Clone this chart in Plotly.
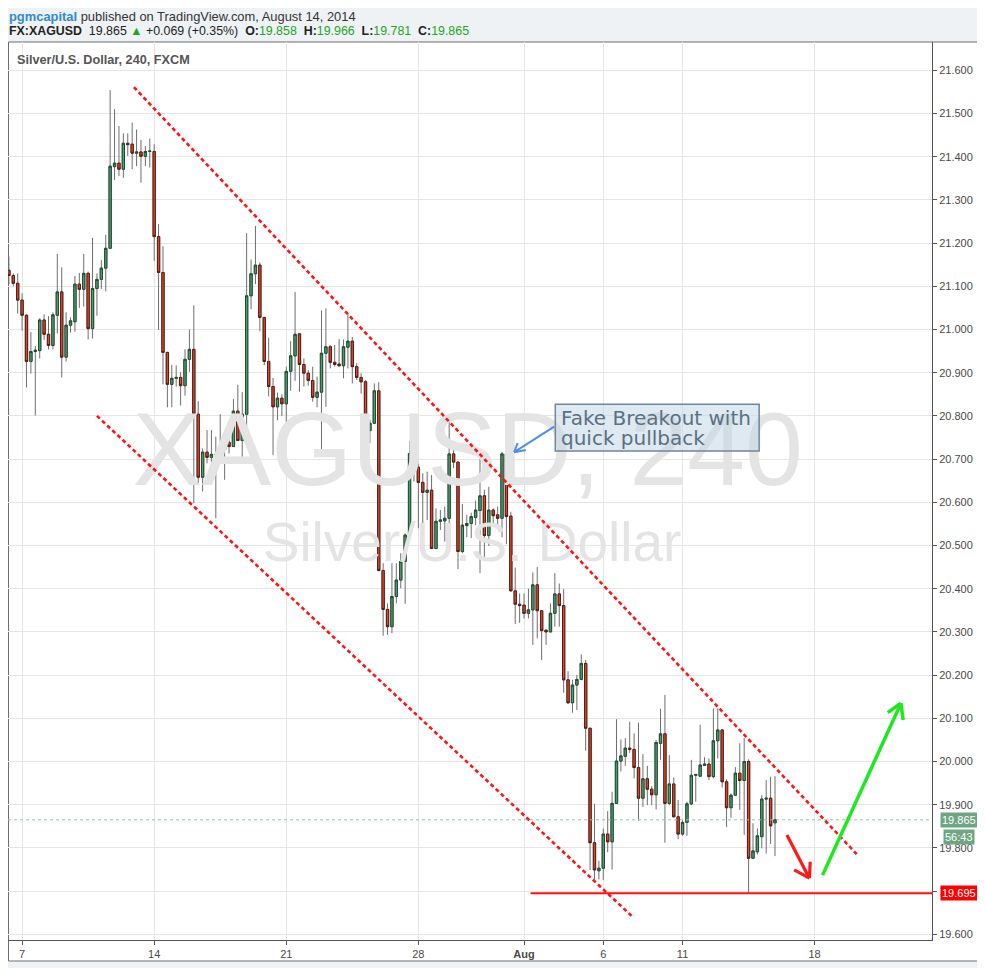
import plotly.graph_objects as go

# ---------------- data: XAGUSD 240 (4h) candles, FXCM ----------------
bar_open = [21.137, 21.125, 21.107, 21.068, 21.033, 20.926, 20.949, 20.951, 21.022, 20.989,
            20.963, 21.033, 21.087, 20.936, 21.010, 21.018, 21.105, 21.093, 21.130, 21.002,
            21.095, 21.116, 21.142, 21.188, 21.377, 21.385, 21.371, 21.431, 21.429, 21.408,
            21.411, 21.401, 21.412, 21.412, 21.215, 21.132, 20.947, 20.873, 20.887, 20.889,
            20.870, 20.931, 20.954, 20.804, 20.658, 20.716, 20.704, 20.711, 20.704, 20.723,
            20.739, 20.729, 20.811, 20.743, 20.804, 21.078, 21.129, 21.149, 21.028, 20.926,
            20.868, 20.821, 20.841, 20.828, 20.903, 20.939, 20.990, 20.919, 20.899, 20.882,
            20.843, 20.855, 20.945, 20.960, 20.924, 20.920, 20.916, 20.959, 20.973, 20.914,
            20.889, 20.879, 20.766, 20.783, 20.858, 20.442, 20.352, 20.312, 20.382, 20.420,
            20.463, 20.524, 20.713, 20.681, 20.646, 20.623, 20.628, 20.493, 20.556, 20.557,
            20.563, 20.712, 20.693, 20.486, 20.546, 20.551, 20.565, 20.581, 20.615, 20.523,
            20.582, 20.571, 20.563, 20.712, 20.568, 20.395, 20.364, 20.362, 20.343, 20.351,
            20.409, 20.349, 20.304, 20.300, 20.343, 20.388, 20.361, 20.189, 20.136, 20.177,
            20.190, 20.227, 20.077, 19.812, 19.747, 19.753, 19.832, 19.814, 19.903, 20.001,
            20.012, 20.031, 20.028, 19.986, 19.915, 19.960, 19.936, 19.923, 20.042, 20.064,
            19.903, 19.948, 19.872, 19.832, 19.859, 19.902, 19.968, 19.966, 19.991, 19.994,
            19.965, 20.048, 20.073, 19.953, 19.893, 19.922, 19.973, 19.956, 20.000, 19.776,
            19.791, 19.826, 19.913, 19.915, 19.858]
bar_high = [21.169, 21.130, 21.130, 21.084, 21.035, 20.994, 20.962, 21.026, 21.035, 21.031,
            21.040, 21.175, 21.144, 21.040, 21.028, 21.124, 21.131, 21.175, 21.134, 21.212,
            21.130, 21.161, 21.219, 21.554, 21.510, 21.471, 21.454, 21.454, 21.479, 21.463,
            21.439, 21.425, 21.442, 21.429, 21.244, 21.193, 20.948, 20.918, 20.917, 20.901,
            20.954, 21.000, 21.056, 20.834, 20.725, 20.767, 20.767, 20.752, 20.804, 20.750,
            20.750, 20.839, 20.872, 20.855, 21.223, 21.162, 21.240, 21.155, 21.029, 20.981,
            20.888, 20.854, 20.850, 20.914, 20.973, 21.087, 20.991, 20.933, 20.906, 20.914,
            20.891, 21.044, 21.049, 20.964, 20.964, 20.978, 20.977, 21.037, 20.983, 20.922,
            20.899, 20.883, 20.791, 20.875, 20.878, 20.459, 20.366, 20.459, 20.459, 20.482,
            20.528, 20.742, 20.715, 20.690, 20.667, 20.671, 20.663, 20.586, 20.582, 20.590,
            20.787, 20.733, 20.694, 20.596, 20.571, 20.576, 20.604, 20.700, 20.629, 20.636,
            20.586, 20.590, 20.717, 20.717, 20.578, 20.449, 20.389, 20.389, 20.400, 20.438,
            20.450, 20.350, 20.305, 20.366, 20.436, 20.412, 20.399, 20.209, 20.189, 20.200,
            20.248, 20.235, 20.078, 19.902, 19.770, 19.845, 19.885, 19.930, 20.098, 20.051,
            20.054, 20.092, 20.065, 20.090, 20.017, 19.990, 19.943, 20.050, 20.122, 20.154,
            20.015, 19.963, 19.911, 19.865, 19.907, 20.004, 19.970, 20.085, 20.010, 20.007,
            20.123, 20.123, 20.074, 19.959, 19.926, 19.987, 20.042, 20.054, 20.005, 19.857,
            19.845, 19.922, 19.957, 19.965, 19.966]
bar_low = [21.105, 21.100, 21.037, 20.997, 20.866, 20.898, 20.801, 20.933, 20.976, 20.954,
           20.954, 20.991, 20.889, 20.926, 20.993, 20.995, 21.050, 21.053, 20.977, 20.979,
           21.032, 21.094, 21.088, 21.186, 21.346, 21.355, 21.351, 21.402, 21.371, 21.378,
           21.340, 21.378, 21.375, 21.159, 20.999, 20.873, 20.820, 20.820, 20.868, 20.824,
           20.847, 20.902, 20.598, 20.644, 20.625, 20.690, 20.644, 20.563, 20.690, 20.652,
           20.713, 20.728, 20.742, 20.696, 20.744, 21.047, 21.105, 20.996, 20.917, 20.845,
           20.709, 20.790, 20.800, 20.784, 20.858, 20.881, 20.856, 20.868, 20.870, 20.833,
           20.820, 20.721, 20.821, 20.910, 20.914, 20.914, 20.887, 20.910, 20.875, 20.883,
           20.852, 20.737, 20.737, 20.781, 20.441, 20.291, 20.293, 20.297, 20.366, 20.401,
           20.365, 20.520, 20.648, 20.540, 20.545, 20.559, 20.492, 20.492, 20.536, 20.509,
           20.509, 20.679, 20.445, 20.482, 20.519, 20.517, 20.547, 20.436, 20.466, 20.499,
           20.544, 20.540, 20.519, 20.503, 20.394, 20.318, 20.321, 20.331, 20.331, 20.270,
           20.285, 20.235, 20.270, 20.299, 20.312, 20.312, 20.159, 20.133, 20.113, 20.119,
           20.188, 20.025, 19.749, 19.726, 19.727, 19.726, 19.790, 19.750, 19.902, 19.977,
           19.990, 20.020, 19.961, 19.863, 19.895, 19.899, 19.899, 19.889, 20.004, 19.812,
           19.899, 19.871, 19.820, 19.828, 19.828, 19.899, 19.907, 19.965, 19.990, 19.957,
           19.961, 20.007, 19.940, 19.848, 19.870, 19.920, 19.888, 19.830, 19.695, 19.775,
           19.785, 19.799, 19.787, 19.809, 19.781]
bar_close = [21.125, 21.107, 21.068, 21.033, 20.926, 20.949, 20.952, 21.022, 20.989, 20.963,
             21.034, 21.087, 20.936, 21.010, 21.020, 21.105, 21.093, 21.130, 21.002, 21.095,
             21.116, 21.142, 21.188, 21.378, 21.385, 21.371, 21.431, 21.428, 21.408, 21.411,
             21.401, 21.412, 21.413, 21.215, 21.132, 20.947, 20.873, 20.887, 20.889, 20.870,
             20.931, 20.954, 20.804, 20.658, 20.716, 20.704, 20.711, 20.704, 20.723, 20.739,
             20.729, 20.811, 20.743, 20.804, 21.078, 21.129, 21.149, 21.028, 20.926, 20.868,
             20.821, 20.841, 20.828, 20.903, 20.939, 20.989, 20.919, 20.899, 20.882, 20.843,
             20.855, 20.945, 20.960, 20.924, 20.919, 20.916, 20.960, 20.973, 20.914, 20.889,
             20.879, 20.766, 20.783, 20.858, 20.442, 20.352, 20.312, 20.382, 20.420, 20.463,
             20.524, 20.713, 20.681, 20.646, 20.623, 20.628, 20.493, 20.556, 20.559, 20.563,
             20.712, 20.693, 20.486, 20.547, 20.551, 20.567, 20.582, 20.615, 20.523, 20.582,
             20.569, 20.563, 20.712, 20.567, 20.395, 20.364, 20.361, 20.343, 20.351, 20.409,
             20.349, 20.303, 20.300, 20.343, 20.388, 20.361, 20.189, 20.136, 20.177, 20.190,
             20.227, 20.077, 19.812, 19.749, 19.753, 19.832, 19.814, 19.903, 20.001, 20.013,
             20.031, 20.028, 19.986, 19.915, 19.960, 19.936, 19.923, 20.044, 20.064, 19.903,
             19.948, 19.872, 19.832, 19.859, 19.902, 19.968, 19.970, 19.992, 19.994, 19.965,
             20.048, 20.073, 19.953, 19.893, 19.922, 19.973, 19.956, 20.000, 19.776, 19.793,
             19.828, 19.913, 19.915, 19.851, 19.865]
bar_index = list(range(len(bar_open)))

day_tick_index = [3, 33, 63, 93, 117, 135, 153, 183]
day_tick_text = ["7", "14", "21", "28", "<b>Aug</b>", "6", "11", "18"]

last_price = 19.865
support_price = 19.695
bar_countdown = "56:43"

# hand-drawn channel / arrows, in (bar index, price)
upper_channel = [(28.4, 21.561), (192.6, 19.785)]
lower_channel = [(20.0, 20.800), (141.7, 19.640)]
support_start = 118.5
green_arrow = [(184.8, 19.737), (202.6, 20.135), (199.6, 20.113), (203.1, 20.096)]
red_arrow = [(176.7, 19.830), (181.8, 19.730), (178.35, 19.749), (182.0, 19.768)]
blue_arrow = [(123.85, 20.775), (114.76, 20.716), (115.54, 20.737), (117.42, 20.721)]
note_box = [(124.1, 20.719), (170.4, 20.827)]
note_lines = ["Fake Breakout with", "quick pullback"]
note_line_prices = [20.795, 20.749]

# ---------------- figure ----------------
# the page places the figure 8px from the top-left corner of the window
OFF = 8
W, H = 985 - OFF, 968 - OFF
PLOT_L, PLOT_R, PLOT_T, PLOT_B = 8, 932, 42, 940      # plot area in window pixels
ML, MR, MT, MB = PLOT_L - OFF, W - (PLOT_R - OFF), PLOT_T - OFF, H - (PLOT_B - OFF)
BAR_PX = 4.403
X_RANGE = [-0.2, -0.2 + (PLOT_R - PLOT_L) / BAR_PX]
Y_RANGE = [19.5868, 21.6655]


def pxx(x):
    return (x - PLOT_L) / (PLOT_R - PLOT_L)


def pxy(y):
    return (PLOT_B - y) / (PLOT_B - PLOT_T)


FONT = "Liberation Sans"
WICK = "#6e6e6e"

fig = go.Figure()

# watermark (drawn first, under the candles)
fig.add_trace(go.Scatter(x=[104.2], y=[20.70], mode="text", text=["XAGUSD, 240"],
                         textfont=dict(family=FONT, size=104, color="#e4e4e4"),
                         hoverinfo="skip", showlegend=False))
fig.add_trace(go.Scatter(x=[105.2], y=[20.495], mode="text", text=["Silver/U.S. Dollar"],
                         textfont=dict(family=FONT, size=55, color="#e4e4e4"),
                         hoverinfo="skip", showlegend=False))

# wicks
fig.add_trace(go.Candlestick(
    x=bar_index, open=bar_open, high=bar_high, low=bar_low, close=bar_close,
    increasing=dict(line=dict(color=WICK, width=1), fillcolor=WICK),
    decreasing=dict(line=dict(color=WICK, width=1), fillcolor=WICK),
    whiskerwidth=0, hoverinfo="skip", showlegend=False))

# bodies
body_hi = [max(o, c) for o, c in zip(bar_open, bar_close)]
body_lo = [min(o, c) for o, c in zip(bar_open, bar_close)]
fig.add_trace(go.Candlestick(
    x=bar_index, open=bar_open, high=body_hi, low=body_lo, close=bar_close,
    increasing=dict(line=dict(color="#1f4d34", width=1), fillcolor="#4e9e6c"),
    decreasing=dict(line=dict(color="#5e1a10", width=1), fillcolor="#cf4a32"),
    whiskerwidth=0, hoverinfo="skip", showlegend=False))

shapes = []
# white chart panel
shapes.append(dict(type="rect", xref="paper", yref="paper", x0=pxx(8.5), x1=pxx(978),
                   y0=pxy(961), y1=pxy(42), fillcolor="#ffffff",
                   line=dict(color="#6d6d6d", width=1), layer="below"))
# last price dotted line
shapes.append(dict(type="line", xref="x", yref="y", x0=X_RANGE[0], x1=X_RANGE[1],
                   y0=last_price, y1=last_price,
                   line=dict(color="#9cc1b1", width=1, dash="3px,3px")))
# channel
for seg in (upper_channel, lower_channel):
    shapes.append(dict(type="line", xref="x", yref="y", x0=seg[0][0], y0=seg[0][1],
                       x1=seg[1][0], y1=seg[1][1],
                       line=dict(color="#ff1414", width=2.6, dash="4px,3px")))
# support
shapes.append(dict(type="line", xref="x", yref="y", x0=support_start, x1=X_RANGE[1] + 1,
                   y0=support_price, y1=support_price,
                   line=dict(color="#ff1010", width=2)))


def arrow(pts, color, width):
    tail, tip, a1, a2 = pts
    out = []
    for p0, p1 in ((tail, tip), (a1, tip), (a2, tip)):
        out.append(dict(type="line", xref="x", yref="y", x0=p0[0], y0=p0[1],
                        x1=p1[0], y1=p1[1], line=dict(color=color, width=width)))
    return out


shapes += arrow(green_arrow, "#1ee81e", 3.5)
shapes += arrow(red_arrow, "#ff1a1a", 3.2)
shapes += arrow(blue_arrow, "#4f8fe6", 2)
# note box
shapes.append(dict(type="rect", xref="x", yref="y", x0=note_box[0][0], x1=note_box[1][0],
                   y0=note_box[0][1], y1=note_box[1][1],
                   fillcolor="rgba(190,212,228,0.5)", line=dict(color="#6f8799", width=1.5)))

annotations = []
for txt, yv in zip(note_lines, note_line_prices):
    annotations.append(dict(xref="x", yref="y", x=124.9, y=yv, text=txt, showarrow=False,
                            xanchor="left", yanchor="middle",
                            font=dict(family="DejaVu Sans", size=20, color="#5b7083")))

GREEN = "#1fa51f"
line1 = ('<b><span style="color:#2f8bc9">pgmcapital</span></b>'
         ' published on TradingView.com, August 14, 2014')
line2 = ('<b>FX:XAGUSD</b>  19.865 <span style="color:%s">▲</span> +0.069 (+0.35%%)  '
         '<b>O:</b><span style="color:%s">19.858</span>  '
         '<b>H:</b><span style="color:%s">19.966</span>  '
         '<b>L:</b><span style="color:%s">19.781</span>  '
         '<b>C:</b><span style="color:%s">19.865</span>') % (GREEN, GREEN, GREEN, GREEN, GREEN)
annotations.append(dict(xref="paper", yref="paper", x=pxx(7), y=pxy(16), text=line1,
                        showarrow=False, xanchor="left", yanchor="middle",
                        font=dict(family=FONT, size=12.9, color="#333333")))
annotations.append(dict(xref="paper", yref="paper", x=pxx(7), y=pxy(31), text=line2,
                        showarrow=False, xanchor="left", yanchor="middle",
                        font=dict(family=FONT, size=12.4, color="#222222")))
annotations.append(dict(xref="paper", yref="paper", x=pxx(15), y=pxy(60),
                        text="<b>Silver/U.S. Dollar, 240, FXCM</b>", showarrow=False,
                        xanchor="left", yanchor="middle",
                        font=dict(family=FONT, size=12.7, color="#555555")))
# right-axis price labels
annotations.append(dict(xref="paper", yref="y", x=pxx(940), y=last_price,
                        text=f"{last_price:.3f}", showarrow=False, xanchor="left",
                        yanchor="middle", bgcolor="#6fa583", borderpad=1,
                        font=dict(family=FONT, size=11, color="#ffffff")))
annotations.append(dict(xref="paper", yref="paper", x=pxx(943), y=pxy(836.5),
                        text=bar_countdown, showarrow=False, xanchor="left",
                        yanchor="middle", bgcolor="#6fa583", borderpad=1,
                        font=dict(family=FONT, size=11, color="#ffffff")))
annotations.append(dict(xref="paper", yref="y", x=pxx(940), y=support_price,
                        text=f"{support_price:.3f}", showarrow=False, xanchor="left",
                        yanchor="middle", bgcolor="#ff0000", borderpad=1,
                        font=dict(family=FONT, size=11, color="#ffffff")))

fig.update_layout(
    width=W, height=H,
    margin=dict(l=ML, r=MR, t=MT, b=MB, pad=0),
    paper_bgcolor="#eff2f5", plot_bgcolor="#ffffff",
    boxgap=0.25, showlegend=False, hovermode=False,
    shapes=shapes, annotations=annotations,
)
fig.update_xaxes(range=X_RANGE, tickmode="array", tickvals=day_tick_index, ticktext=day_tick_text,
                 showgrid=True, gridcolor="#e6e6e6", gridwidth=1, zeroline=False,
                 showline=True, linecolor="#555555", linewidth=1,
                 ticks="outside", ticklen=4, tickcolor="#555555",
                 tickfont=dict(family=FONT, size=11, color="#4a4a4a"),
                 rangeslider=dict(visible=False), fixedrange=True)
fig.update_yaxes(range=Y_RANGE, side="right", tick0=19.6, dtick=0.1, tickformat=".3f",
                 showgrid=True, gridcolor="#e6e6e6", gridwidth=1, zeroline=False,
                 showline=True, linecolor="#555555", linewidth=1,
                 ticks="outside", ticklen=4, tickcolor="#555555",
                 tickfont=dict(family=FONT, size=11, color="#4a4a4a"), fixedrange=True)

fig.write_html("out.html")
